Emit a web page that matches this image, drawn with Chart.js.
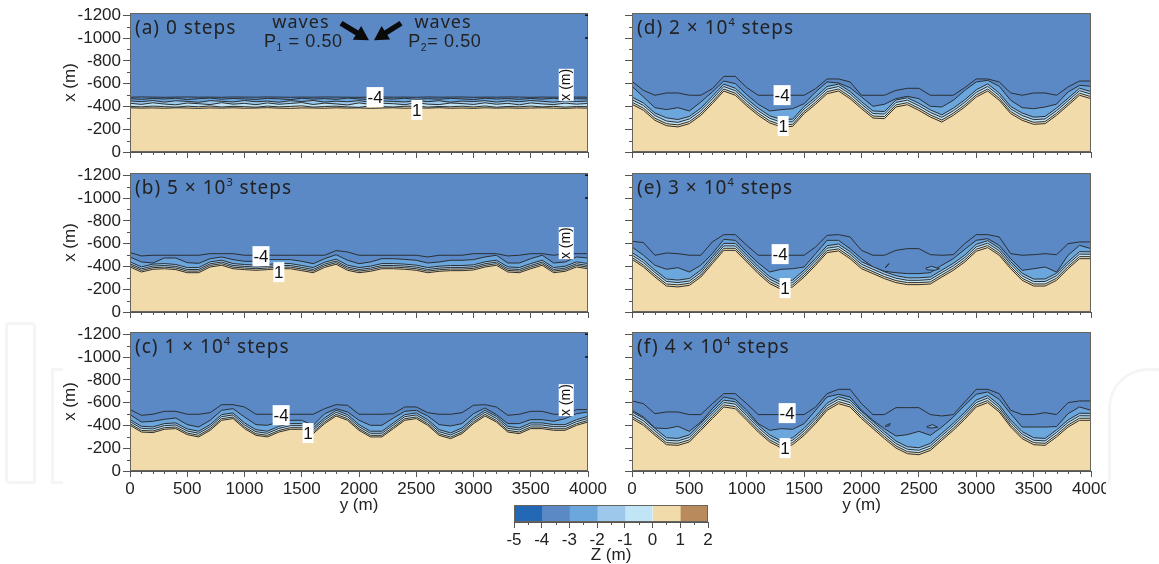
<!DOCTYPE html>
<html><head><meta charset="utf-8">
<style>
html,body{margin:0;padding:0;background:#fff;width:1159px;height:564px;overflow:hidden}
canvas{position:absolute;display:block}
.wm{position:absolute;border:3px solid #f5f5f5;box-sizing:border-box}
</style>
<script src="https://cdn.jsdelivr.net/npm/chart.js@4"></script>
</head><body>
<div class="wm" style="left:5px;top:322px;width:31px;height:162px;border-radius:4px"></div>
<div class="wm" style="left:51px;top:368px;width:12px;height:116px;border-right:0"></div>
<div class="wm" style="left:1108px;top:368px;width:70px;height:116px;border-radius:40px 0 0 0;border-bottom:0"></div>
<script>
const yPositions=[0,100,200,300,400,500,600,700,800,900,1000,1100,1200,1300,1400,1500,1600,1700,1800,1900,2000,2100,2200,2300,2400,2500,2600,2700,2800,2900,3000,3100,3200,3300,3400,3500,3600,3700,3800,3900,4000];
const xTickValues=[0,500,1000,1500,2000,2500,3000,3500,4000];
const yTickValues=[-1200,-1000,-800,-600,-400,-200,0];
const zEdges=[-5,-4,-3,-2,-1,0,1,2];

const a_m4=[-481,-483,-482,-480,-482,-483,-481,-482,-480,-483,-482,-481,-483,-482,-480,-482,-481,-483,-482,-481,-480,-482,-483,-481,-482,-480,-483,-481,-482,-483,-480,-482,-481,-483,-482,-480,-482,-481,-483,-482,-481];
const a_m3=[-468,-462,-470,-465,-472,-460,-468,-473,-463,-470,-466,-461,-471,-467,-459,-472,-464,-469,-462,-473,-466,-460,-470,-464,-472,-461,-468,-463,-471,-466,-460,-472,-465,-469,-462,-470,-464,-472,-460,-468,-466];
const a_m2=[-448,-442,-452,-438,-450,-444,-436,-451,-445,-439,-452,-441,-447,-437,-450,-443,-452,-438,-446,-441,-451,-436,-448,-444,-439,-452,-442,-450,-437,-447,-443,-451,-438,-449,-441,-452,-445,-437,-450,-443,-447];
const a_m1=[-428,-418,-432,-421,-414,-430,-424,-416,-433,-420,-427,-415,-431,-419,-426,-434,-417,-429,-422,-413,-431,-418,-428,-424,-415,-433,-420,-416,-430,-425,-417,-432,-419,-427,-414,-431,-422,-416,-429,-420,-426];
const a_0=[-400,-396,-403,-398,-394,-402,-397,-404,-395,-401,-398,-393,-403,-396,-400,-405,-394,-399,-402,-396,-392,-404,-398,-395,-401,-403,-394,-399,-397,-402,-395,-404,-393,-400,-397,-403,-396,-401,-394,-399,-398];
const a_1=[-388,-385,-387,-384,-388,-386,-383,-387,-385,-388,-384,-386,-389,-385,-383,-387,-386,-384,-388,-385,-387,-383,-386,-388,-384,-387,-385,-389,-384,-386,-383,-388,-385,-387,-384,-386,-388,-385,-383,-387,-385];

const b_m4=[-521,-492,-498,-498,-498,-498,-498,-512,-512,-512,-498,-498,-498,-498,-498,-498,-498,-498,-539,-527,-498,-498,-498,-498,-498,-498,-483,-498,-498,-498,-512,-512,-512,-492,-498,-512,-512,-498,-512,-512,-512];
const b_m3=[-483,-439,-430,-474,-474,-433,-427,-468,-483,-460,-445,-445,-460,-460,-460,-445,-424,-468,-503,-454,-424,-439,-468,-468,-462,-454,-430,-439,-454,-454,-460,-483,-498,-430,-430,-468,-498,-430,-439,-483,-474];
const b_m2=[-440,-396,-420,-425,-417,-390,-390,-440,-455,-425,-417,-411,-417,-425,-425,-408,-390,-437,-464,-411,-390,-402,-425,-425,-420,-411,-390,-402,-408,-408,-414,-440,-455,-396,-390,-425,-455,-390,-402,-440,-425];
const b_m1=[-423,-379,-403,-408,-400,-373,-373,-423,-438,-408,-400,-394,-400,-408,-408,-391,-373,-420,-447,-394,-373,-385,-408,-408,-403,-394,-373,-385,-391,-391,-397,-423,-438,-379,-373,-408,-438,-373,-385,-423,-408];
const b_0=[-409,-365,-389,-394,-386,-359,-359,-409,-424,-394,-386,-380,-386,-394,-394,-377,-359,-406,-433,-380,-359,-371,-394,-394,-389,-380,-359,-371,-377,-377,-383,-409,-424,-365,-359,-394,-424,-359,-371,-409,-394];
const b_1=[-395,-351,-375,-380,-372,-345,-345,-395,-410,-380,-372,-366,-372,-380,-380,-363,-345,-392,-419,-366,-345,-357,-380,-380,-375,-366,-345,-357,-363,-363,-369,-395,-410,-351,-345,-380,-410,-345,-357,-395,-380];

const c_m4=[-539,-489,-498,-524,-524,-498,-498,-512,-582,-582,-562,-498,-498,-498,-498,-498,-498,-547,-582,-577,-498,-498,-498,-503,-562,-562,-512,-498,-498,-512,-577,-582,-562,-489,-498,-524,-524,-498,-498,-539,-539];
const c_m3=[-495,-430,-436,-454,-465,-407,-386,-445,-533,-547,-474,-407,-401,-430,-445,-445,-401,-503,-547,-518,-445,-401,-401,-465,-524,-533,-483,-407,-395,-416,-503,-553,-495,-416,-416,-451,-451,-436,-460,-503,-518];
const c_m2=[-451,-392,-387,-416,-422,-369,-349,-407,-495,-510,-422,-363,-349,-392,-416,-416,-378,-466,-533,-495,-407,-349,-349,-422,-495,-510,-451,-363,-334,-378,-466,-533,-480,-392,-378,-422,-422,-407,-407,-451,-480];
const c_m1=[-433,-374,-369,-398,-404,-351,-331,-389,-477,-492,-404,-345,-331,-374,-398,-398,-360,-448,-515,-477,-389,-331,-331,-404,-477,-492,-433,-345,-316,-360,-448,-515,-462,-374,-360,-404,-404,-389,-389,-433,-462];
const c_0=[-415,-356,-351,-380,-386,-333,-313,-371,-459,-474,-386,-327,-313,-356,-380,-380,-342,-430,-497,-459,-371,-313,-313,-386,-459,-474,-415,-327,-298,-342,-430,-497,-444,-356,-342,-386,-386,-371,-371,-415,-444];
const c_1=[-401,-342,-337,-366,-372,-319,-299,-357,-445,-460,-372,-313,-299,-342,-366,-366,-328,-416,-483,-445,-357,-299,-299,-372,-445,-460,-401,-313,-284,-328,-416,-483,-430,-342,-328,-372,-372,-357,-357,-401,-430];

const d_m4=[-620,-541,-498,-518,-518,-498,-498,-556,-664,-664,-565,-498,-498,-498,-498,-498,-556,-641,-641,-615,-498,-498,-498,-541,-559,-559,-498,-498,-498,-565,-641,-641,-615,-518,-498,-518,-518,-498,-571,-623,-623];
const d_m3=[-577,-483,-389,-372,-389,-360,-439,-527,-623,-600,-503,-419,-360,-372,-380,-424,-527,-615,-606,-565,-483,-401,-419,-468,-489,-468,-401,-395,-454,-541,-615,-629,-577,-454,-389,-380,-395,-420,-527,-585,-577];
const d_m2=[-482,-430,-342,-300,-285,-312,-385,-490,-596,-560,-468,-385,-318,-285,-288,-400,-482,-575,-596,-532,-442,-360,-355,-456,-476,-428,-370,-326,-385,-458,-546,-598,-518,-400,-342,-306,-312,-386,-472,-560,-530];
const d_m1=[-459,-408,-320,-272,-260,-290,-362,-466,-575,-538,-445,-362,-296,-262,-266,-378,-460,-552,-575,-510,-420,-338,-333,-435,-455,-406,-347,-304,-362,-436,-524,-575,-495,-378,-320,-284,-290,-363,-450,-538,-508];
const d_0=[-437,-384,-296,-249,-238,-267,-340,-442,-553,-516,-422,-340,-273,-238,-243,-355,-437,-530,-553,-486,-398,-316,-311,-413,-433,-384,-325,-281,-340,-413,-501,-553,-472,-355,-296,-261,-267,-340,-428,-516,-486];
const d_1=[-419,-366,-278,-231,-220,-249,-322,-424,-535,-498,-404,-322,-255,-220,-225,-337,-419,-512,-535,-468,-380,-298,-293,-395,-415,-366,-307,-263,-322,-395,-483,-535,-454,-337,-278,-243,-249,-322,-410,-498,-468];

const e_m4=[-620,-610,-498,-518,-512,-498,-498,-615,-679,-679,-585,-498,-498,-498,-498,-498,-571,-673,-679,-659,-541,-498,-498,-541,-556,-556,-503,-498,-503,-600,-679,-679,-659,-512,-498,-503,-512,-503,-600,-615,-615];
const e_m3=[-571,-498,-410,-375,-389,-351,-410,-512,-638,-629,-527,-430,-351,-375,-380,-395,-512,-629,-629,-556,-468,-395,-357,-345,-337,-337,-345,-410,-468,-550,-629,-644,-585,-468,-366,-380,-395,-350,-498,-585,-556];
const e_m2=[-522,-456,-368,-290,-280,-294,-368,-486,-602,-602,-500,-398,-310,-260,-280,-368,-472,-582,-597,-530,-441,-397,-353,-319,-300,-300,-307,-368,-427,-500,-594,-626,-560,-442,-340,-289,-290,-340,-442,-530,-528];
const e_m1=[-500,-434,-347,-268,-258,-272,-346,-464,-580,-580,-478,-376,-288,-238,-258,-346,-450,-560,-575,-507,-419,-375,-331,-297,-278,-278,-285,-346,-405,-478,-572,-604,-537,-420,-318,-267,-268,-318,-420,-508,-507];
const e_0=[-479,-412,-325,-246,-238,-252,-325,-442,-559,-559,-457,-355,-267,-217,-238,-325,-428,-539,-554,-486,-398,-354,-310,-276,-258,-258,-264,-325,-384,-457,-551,-583,-516,-398,-296,-246,-246,-296,-398,-486,-486];
const e_1=[-462,-395,-307,-228,-220,-234,-307,-424,-541,-541,-439,-337,-249,-199,-220,-307,-410,-521,-536,-468,-380,-337,-293,-258,-240,-240,-246,-307,-366,-439,-533,-565,-498,-380,-278,-228,-228,-278,-380,-468,-468];

const f_m4=[-615,-591,-503,-518,-518,-495,-495,-591,-679,-679,-591,-495,-495,-495,-495,-495,-562,-679,-717,-717,-591,-495,-495,-556,-556,-556,-495,-483,-495,-606,-717,-717,-679,-533,-495,-495,-512,-495,-600,-615,-615];
const f_m3=[-533,-474,-378,-372,-392,-348,-430,-547,-650,-629,-533,-416,-357,-372,-366,-416,-533,-650,-673,-650,-533,-445,-372,-307,-319,-348,-313,-386,-474,-577,-673,-694,-629,-503,-386,-386,-386,-390,-503,-562,-533];
const f_m2=[-520,-462,-374,-292,-286,-317,-419,-522,-622,-608,-507,-404,-317,-263,-292,-375,-478,-595,-652,-624,-522,-434,-346,-263,-213,-204,-242,-331,-419,-516,-623,-662,-580,-448,-346,-292,-286,-361,-448,-507,-506];
const f_m1=[-498,-440,-352,-270,-264,-295,-397,-500,-601,-587,-485,-382,-295,-241,-270,-353,-456,-573,-630,-602,-500,-412,-324,-241,-191,-182,-220,-309,-397,-494,-601,-640,-558,-426,-324,-270,-264,-339,-426,-485,-484];
const f_0=[-477,-418,-330,-249,-243,-273,-375,-478,-580,-565,-463,-360,-273,-220,-249,-331,-434,-551,-609,-580,-478,-390,-302,-220,-170,-161,-199,-287,-375,-472,-580,-618,-536,-404,-302,-249,-243,-317,-404,-463,-463];
const f_1=[-460,-401,-313,-231,-225,-255,-357,-460,-562,-547,-445,-342,-255,-202,-231,-313,-416,-533,-591,-562,-460,-372,-284,-202,-152,-143,-181,-269,-357,-454,-562,-600,-518,-386,-284,-231,-225,-299,-386,-445,-445];

const e_spot1_y=[2210,2240,2225,2205,2210],e_spot1_x=[-395,-425,-405,-390,-395];
const e_spot2_y=[2561,2610,2678,2640,2570,2561],e_spot2_x=[-385,-401,-380,-366,-370,-385];
const f_spot1_y=[2215,2250,2240,2205,2215],f_spot1_x=[-400,-418,-395,-392,-400];
const f_spot2_y=[2570,2620,2663,2620,2575,2570],f_spot2_x=[-390,-407,-385,-378,-380,-390];

const bandColors=[null,'#f2dbab','#bfe5f6','#9dc8eb','#6ba6dc',null];
const zColors=['#2268b5','#5a89c6','#6ba6dc','#9dc8eb','#bfe5f6','#f2dbab','#b98b5c'];
const OFFSHORE='#5a89c6', LINE='#2b2f33', AXIS='#555', TXT='#222';
const SANS='"Liberation Sans", Arial, sans-serif', GOTHIC='"Noto Sans", sans-serif';

function runs(ctx,x,y,parts,size,font,spacing,color){
  ctx.save();ctx.fillStyle=color||TXT;ctx.textAlign='left';ctx.textBaseline='middle';
  let cx=x;
  for(const p of parts){
    const s=p.sup||p.sub?size*0.58:size;
    ctx.font=s+'px '+font;ctx.letterSpacing=(spacing||0)+'px';
    const dy=p.sup?-size*0.32:p.sub?size*0.34:0;
    ctx.fillText(p.t,cx,y+dy);
    cx+=ctx.measureText(p.t).width;
  }
  ctx.restore();
}
function arrow(ctx,x0,y0,x1,y1,w,hl,hw){
  const a=Math.atan2(y1-y0,x1-x0),L=Math.hypot(x1-x0,y1-y0);
  ctx.save();ctx.translate(x0,y0);ctx.rotate(a);ctx.fillStyle='#0a0a0a';ctx.beginPath();
  ctx.moveTo(0,-w/2);ctx.lineTo(L-hl,-w/2);ctx.lineTo(L-hl,-hw/2);ctx.lineTo(L,0);ctx.lineTo(L-hl,hw/2);ctx.lineTo(L-hl,w/2);ctx.lineTo(0,w/2);ctx.closePath();ctx.fill();ctx.restore();
}
function overlay(p){return {id:'overlay',
  beforeDatasetsDraw(ch){const a=ch.chartArea,c=ch.ctx;c.save();c.fillStyle=OFFSHORE;c.fillRect(a.left,a.top,a.right-a.left,a.bottom-a.top);c.restore();},
  afterDraw(ch){
    const a=ch.chartArea,c=ch.ctx,X=ch.scales.x,Y=ch.scales.y;
    c.save();c.strokeStyle='#66645c';c.lineWidth=1;c.strokeRect(a.left+.5,a.top+.5,a.right-a.left-1,a.bottom-a.top-1);
    c.strokeStyle=AXIS;c.beginPath();
    for(let v=0;v<=4000;v+=100){if(v%500){const px=Math.round(X.getPixelForValue(v))+.5;c.moveTo(px,a.bottom);c.lineTo(px,a.bottom+3);}}
    for(let v=-1100;v<0;v+=200){const py=Math.round(Y.getPixelForValue(v))+.5;c.moveTo(a.left,py);c.lineTo(a.left-3,py);}
    c.stroke();
    if(p.innerTicks){c.strokeStyle='#111';c.lineWidth=1.5;c.beginPath();for(const v of [-1200,-1000]){const py=Y.getPixelForValue(v);c.moveTo(a.right-3,py);c.lineTo(a.right,py);}c.stroke();}
    c.restore();
    runs(c,a.left+5,a.top+16,p.title,19,GOTHIC,1);
    for(const l of p.labels){
      const px=X.getPixelForValue(l[0]),py=Y.getPixelForValue(l[1]);
      const w=l[2]==='1'?11:17;
      c.save();c.fillStyle='#fff';c.fillRect(px-w/2,py-10,w,20);
      c.fillStyle='#111';c.font='17px '+SANS;c.textAlign='center';c.textBaseline='middle';c.fillText(l[2],px,py+1);c.restore();
    }
    if(p.inlineAxis){
      const px=X.getPixelForValue(p.inlineAxis[0]),py=Y.getPixelForValue(p.inlineAxis[1]);
      c.save();c.translate(px,py);c.fillStyle='#fff';c.fillRect(-7.5,-16,15,32);c.rotate(-Math.PI/2);
      c.fillStyle='#111';c.font='14px '+SANS;c.textAlign='center';c.textBaseline='middle';c.fillText('x (m)',0,0);c.restore();
    }
    if(p.waves){
      const P=(u,v)=>[X.getPixelForValue(u),Y.getPixelForValue(v)];
      arrow(c,...P(1843,-1130),...P(2087,-981),5.5,14,16);
      arrow(c,...P(2367,-1130),...P(2131,-981),5.5,14,16);
      const w=(t,u,v)=>{const q=P(u,v);c.save();c.fillStyle=TXT;c.font='18px '+GOTHIC;c.letterSpacing='1px';c.textAlign='center';c.textBaseline='middle';c.fillText(t,q[0],q[1]);c.restore();};
      w('waves',1493,-1130);w('waves',2734,-1130);
      let q=P(1170,-964);runs(c,q[0],q[1],[{t:'P'},{t:'1',sub:1},{t:' = 0.50'}],18,SANS,0.6);
      q=P(2430,-964);runs(c,q[0],q[1],[{t:'P'},{t:'2',sub:1},{t:'= 0.50'}],18,SANS,0.6);
    }
  }};}

function line(xs,ys,color,fill,width){return {data:xs.map((v,i)=>({x:ys[i],y:v})),borderColor:color,borderWidth:width||1,pointRadius:0,tension:0,fill:fill?'origin':false,backgroundColor:fill||undefined};}

function panel(id,geo,lines,p,spots){
  const cv=document.createElement('canvas');cv.id=id;cv.width=geo.w;cv.height=geo.h;
  cv.style.left=geo.l+'px';cv.style.top=geo.t+'px';document.body.appendChild(cv);
  const ds=[];
  (spots||[]).forEach(s=>ds.push({data:s[1].map((v,i)=>({x:s[0][i],y:v})),borderColor:LINE,borderWidth:1,pointRadius:0,tension:0,fill:'shape',backgroundColor:'#6ba6dc'}));
  lines.forEach((arr,i)=>ds.push(line(arr,yPositions,p.lineColor&&p.lineColor[i]||LINE,bandColors[i],1)));
  new Chart(cv,{type:'line',data:{datasets:ds},plugins:[overlay(p)],options:{
    responsive:false,animation:false,devicePixelRatio:1,parsing:true,
    layout:{padding:{top:geo.pt,right:geo.pr,left:0,bottom:0}},
    plugins:{legend:{display:false},tooltip:{enabled:false},title:{display:false}},
    scales:{
      x:{type:'linear',min:0,max:4000,
        afterBuildTicks(s){s.ticks=xTickValues.map(v=>({value:v}));},
        afterFit(s){s.height=geo.xh;s.paddingLeft=0;s.paddingRight=0;},
        grid:{drawOnChartArea:false,tickLength:6,tickColor:AXIS},border:{color:AXIS},
        ticks:{display:!!geo.xlabels,autoSkip:false,maxRotation:0,padding:2,color:TXT,font:{size:17,family:SANS},callback:v=>String(v)},
        title:{display:!!geo.xlabels,text:'y (m)',color:TXT,font:{size:17,family:SANS},padding:{top:0,bottom:5}}},
      y:{type:'linear',reverse:true,min:-1220,max:0,
        afterBuildTicks(s){s.ticks=yTickValues.map(v=>({value:v}));},
        afterFit(s){s.width=geo.yw;s.paddingTop=0;s.paddingBottom=0;},
        grid:{drawOnChartArea:false,tickLength:7,tickColor:AXIS},border:{color:AXIS},
        ticks:{display:!!geo.ylabels,padding:2,color:TXT,autoSkip:false,font:{size:17,family:SANS},callback:v=>String(v)},
        title:{display:!!geo.ylabels,text:'x (m)',color:TXT,font:{size:17,family:SANS},padding:{top:0,bottom:0}}}
    }}});
}
const L=(t,pt,xh,xl)=>({l:60,t:t,w:550,h:pt+139+xh,pt:pt,pr:22,xh:xh,yw:70,ylabels:true,xlabels:xl});
const R=(t,pt,xh,xl)=>({l:622,t:t,w:484,h:pt+139+xh,pt:pt,pr:15,xh:xh,yw:10,ylabels:false,xlabels:xl});

panel('a',L(0,13,10,false),[a_1,a_0,a_m1,a_m2,a_m3,a_m4],{title:[{t:'(a) 0 steps'}],labels:[[2140,-482,'-4'],[2505,-370,'1']],inlineAxis:[3810,-590],waves:true,innerTicks:true});
panel('b',L(163,10,10,false),[b_1,b_0,b_m1,b_m2,b_m3,b_m4],{title:[{t:'(b) 5 × 10'},{t:'3',sup:1},{t:' steps'}],labels:[[1144,-490,'-4'],[1300,-350,'1']],inlineAxis:[3810,-604],innerTicks:true});
panel('c',L(322,10,50,true),[c_1,c_0,c_m1,c_m2,c_m3,c_m4],{title:[{t:'(c) 1 × 10'},{t:'4',sup:1},{t:' steps'}],labels:[[1320,-490,'-4'],[1555,-333,'1']],inlineAxis:[3810,-622],innerTicks:true});
panel('d',R(0,13,10,false),[d_1,d_0,d_m1,d_m2,d_m3,d_m4],{title:[{t:'(d) 2 × 10'},{t:'4',sup:1},{t:' steps'}],labels:[[1308,-499,'-4'],[1317,-228,'1']]});
panel('e',R(163,10,10,false),[e_1,e_0,e_m1,e_m2,e_m3,e_m4],{title:[{t:'(e) 3 × 10'},{t:'4',sup:1},{t:' steps'}],labels:[[1291,-508,'-4'],[1334,-210,'1']]},[[e_spot1_y,e_spot1_x],[e_spot2_y,e_spot2_x]]);
panel('f',R(322,10,50,true),[f_1,f_0,f_m1,f_m2,f_m3,f_m4],{title:[{t:'(f) 4 × 10'},{t:'4',sup:1},{t:' steps'}],labels:[[1352,-508,'-4'],[1334,-201,'1']]},[[f_spot1_y,f_spot1_x],[f_spot2_y,f_spot2_x]]);

/* colour bar */
(function(){
  const cv=document.createElement('canvas');cv.id='zbar';cv.width=280;cv.height=66;cv.style.left='470px';cv.style.top='498px';document.body.appendChild(cv);
  new Chart(cv,{type:'bar',
    data:{labels:['Z'],datasets:zColors.map((c,i)=>({data:[[zEdges[i],zEdges[i+1]]],backgroundColor:c,borderWidth:0}))},
    plugins:[{id:'zframe',afterDraw(ch){const a=ch.chartArea,c=ch.ctx,X=ch.scales.x;c.save();c.strokeStyle='#66645c';c.lineWidth=1;c.strokeRect(a.left+.5,a.top+.5,a.right-a.left-1,a.bottom-a.top-1);
      c.strokeStyle=AXIS;c.beginPath();for(let i=0;i<zEdges.length-1;i++){const px=Math.round(X.getPixelForValue(zEdges[i]+.5))+.5;c.moveTo(px,a.bottom);c.lineTo(px,a.bottom+3);}c.stroke();c.restore();}}],
    options:{indexAxis:'y',responsive:false,animation:false,devicePixelRatio:1,
      layout:{padding:{left:44,right:42,top:7,bottom:0}},
      datasets:{bar:{grouped:false,barPercentage:1,categoryPercentage:1}},
      plugins:{legend:{display:false},tooltip:{enabled:false}},
      scales:{
        y:{display:false},
        x:{type:'linear',min:-5,max:2,
          afterBuildTicks(s){s.ticks=zEdges.map(v=>({value:v}));},
          afterFit(s){s.height=42;s.paddingLeft=0;s.paddingRight=0;},
          grid:{drawOnChartArea:false,tickLength:6,tickColor:AXIS},border:{color:AXIS},
          ticks:{autoSkip:false,maxRotation:0,padding:2,color:TXT,font:{size:17,family:SANS}},
          title:{display:true,text:'Z (m)',color:TXT,font:{size:17,family:SANS},padding:{top:0,bottom:-2}}}
      }}});
})();
</script>
</body></html>
